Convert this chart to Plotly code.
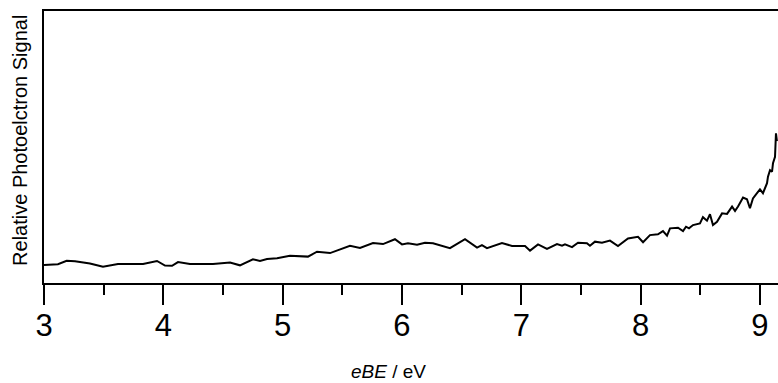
import plotly.graph_objects as go

# Photoelectron spectrum: electron binding energy (eV) vs relative signal
ebe = [3.000, 3.117, 3.190, 3.260, 3.385, 3.494, 3.620, 3.721, 3.830, 3.947,
       4.014, 4.073, 4.123, 4.223, 4.416, 4.559, 4.642, 4.751, 4.810, 4.869,
       4.953, 5.061, 5.212, 5.288, 5.397, 5.564, 5.648, 5.757, 5.841, 5.941,
       6.000, 6.050, 6.126, 6.193, 6.260, 6.402, 6.528, 6.629, 6.670, 6.712,
       6.838, 6.922, 7.031, 7.073, 7.140, 7.215, 7.299, 7.341, 7.366, 7.425,
       7.475, 7.550, 7.575, 7.617, 7.676, 7.743, 7.810, 7.894, 7.978, 8.020,
       8.078, 8.145, 8.187, 8.221, 8.246, 8.313, 8.355, 8.380, 8.405, 8.439,
       8.497, 8.522, 8.556, 8.581, 8.606, 8.640, 8.682, 8.724, 8.766, 8.791,
       8.816, 8.858, 8.891, 8.916, 8.941, 8.975, 9.000, 9.025, 9.059, 9.067,
       9.084, 9.101, 9.109, 9.126, 9.134, 9.142]
signal = [0.066, 0.069, 0.082, 0.080, 0.072, 0.060, 0.070, 0.071, 0.070, 0.081,
          0.064, 0.063, 0.077, 0.070, 0.070, 0.075, 0.065, 0.087, 0.081, 0.088,
          0.091, 0.100, 0.097, 0.115, 0.110, 0.137, 0.129, 0.147, 0.143, 0.161,
          0.142, 0.146, 0.141, 0.148, 0.146, 0.128, 0.161, 0.130, 0.139, 0.128,
          0.147, 0.136, 0.136, 0.119, 0.142, 0.125, 0.143, 0.137, 0.142, 0.132,
          0.148, 0.146, 0.137, 0.152, 0.148, 0.156, 0.136, 0.164, 0.170, 0.150,
          0.176, 0.179, 0.191, 0.174, 0.201, 0.203, 0.191, 0.207, 0.201, 0.213,
          0.219, 0.242, 0.229, 0.253, 0.213, 0.225, 0.256, 0.254, 0.281, 0.265,
          0.281, 0.314, 0.308, 0.275, 0.311, 0.330, 0.344, 0.330, 0.367, 0.391,
          0.415, 0.409, 0.440, 0.464, 0.550, 0.522]

x_ticks = [3, 4, 5, 6, 7, 8, 9]
x_tick_labels = ["3", "4", "5", "6", "7", "8", "9"]

FONT = "Liberation Sans, Arial, sans-serif"

fig = go.Figure()
fig.add_trace(go.Scatter(
    x=ebe, y=signal, mode="lines",
    line=dict(color="black", width=2),
    showlegend=False,
))

fig.update_layout(
    width=778, height=383,
    margin=dict(l=44, r=0, t=11, b=100),
    plot_bgcolor="white", paper_bgcolor="white",
    font=dict(family=FONT, color="black"),
)

fig.update_xaxes(
    range=[3, 9.151],
    tickmode="array", tickvals=x_ticks, ticktext=x_tick_labels,
    ticks="outside", ticklen=20, tickwidth=2, tickcolor="black",
    tickfont=dict(family=FONT, size=31, color="black"),
    ticklabelstandoff=-6,
    minor=dict(dtick=0.5, ticks="outside", ticklen=10, tickwidth=2, tickcolor="black"),
    showline=True, linecolor="black", linewidth=2, mirror=True,
    showgrid=False, zeroline=False,
)

fig.update_yaxes(
    range=[0, 1],
    showticklabels=False, ticks="",
    showline=True, linecolor="black", linewidth=2,
    showgrid=False, zeroline=False,
)

# axis titles
fig.add_annotation(
    text="<i>eBE</i> / eV", xref="paper", yref="paper",
    x=0.47, y=-0.325, xanchor="center", yanchor="middle",
    showarrow=False, font=dict(family=FONT, size=19, color="black"),
)
fig.add_annotation(
    text="Relative Photoelctron Signal", xref="paper", yref="paper",
    x=-0.0327, y=0.526, xanchor="center", yanchor="middle", textangle=-90,
    showarrow=False, font=dict(family=FONT, size=20, color="black"),
)

fig.write_html("out.html")
